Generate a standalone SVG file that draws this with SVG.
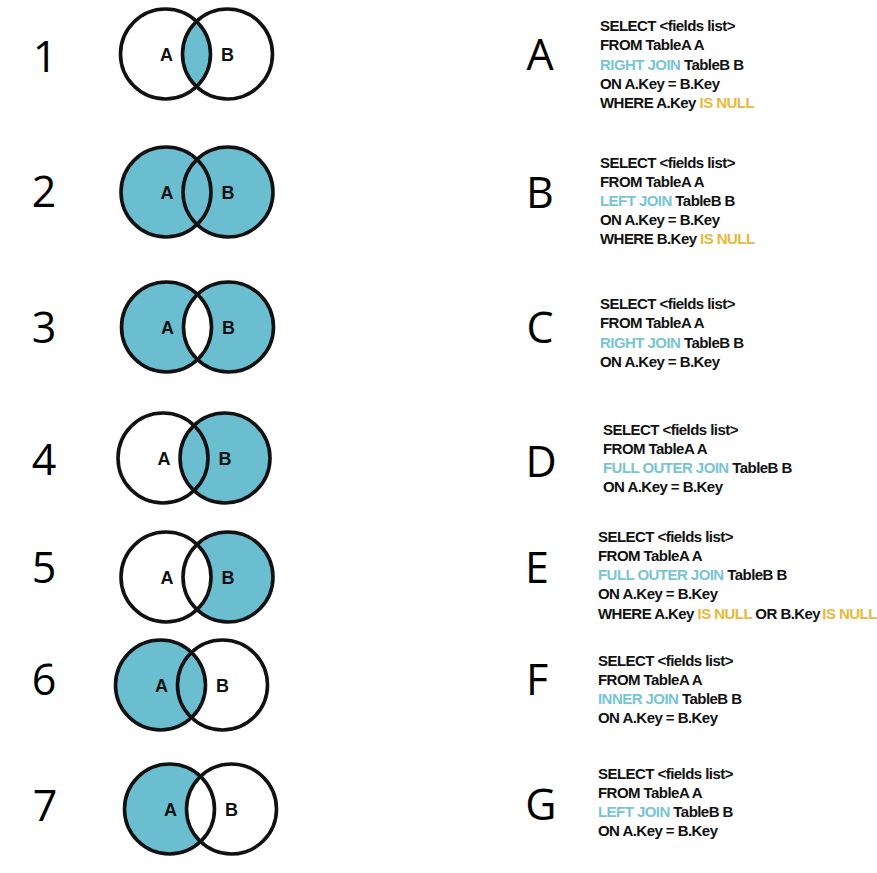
<svg xmlns="http://www.w3.org/2000/svg" width="877" height="873" viewBox="0 0 877 873">
<style>
.num{font-family:"Open Sans","Noto Sans","Liberation Sans",sans-serif;font-size:43px;fill:#000;text-anchor:middle}
.lbl{font-family:"Liberation Sans",Arial,sans-serif;font-weight:bold;font-size:18px;fill:#111;text-anchor:middle}
.sql{font-family:"Liberation Sans",Arial,sans-serif;font-weight:bold;font-size:15px;letter-spacing:-0.55px;fill:#111}
.kw{fill:#78c4d4}
.nl{fill:#e8b93a}
.fill{fill:#6bbdd0}
.blank{fill:#fff}
.ring{fill:none;stroke:#111;stroke-width:3.6}
</style>
<defs>
<clipPath id="clipA"><circle cx="-31" cy="0" r="45"/></clipPath>
<circle id="cA" cx="-31" cy="0" r="45"/>
<circle id="cB" cx="31" cy="0" r="45"/>
</defs>
<rect width="877" height="873" fill="#fff"/>

<g id="venn1" transform="translate(196.5,54)">
<use href="#cB" class="fill" clip-path="url(#clipA)"/>
<use href="#cA" class="ring"/><use href="#cB" class="ring"/>
<text class="lbl" x="-30" y="6.5">A</text><text class="lbl" x="31" y="6.5">B</text>
</g>
<g id="venn2" transform="translate(197,192)">
<use href="#cA" class="fill"/><use href="#cB" class="fill"/>
<use href="#cA" class="ring"/><use href="#cB" class="ring"/>
<text class="lbl" x="-30" y="6.5">A</text><text class="lbl" x="31" y="6.5">B</text>
</g>
<g id="venn3" transform="translate(197.5,327)">
<use href="#cA" class="fill"/><use href="#cB" class="fill"/>
<use href="#cB" class="blank" clip-path="url(#clipA)"/>
<use href="#cA" class="ring"/><use href="#cB" class="ring"/>
<text class="lbl" x="-30" y="6.5">A</text><text class="lbl" x="31" y="6.5">B</text>
</g>
<g id="venn4" transform="translate(194,458)">
<use href="#cB" class="fill"/>
<use href="#cA" class="ring"/><use href="#cB" class="ring"/>
<text class="lbl" x="-30" y="6.5">A</text><text class="lbl" x="31" y="6.5">B</text>
</g>
<g id="venn5" transform="translate(197,577)">
<use href="#cB" class="fill"/>
<use href="#cB" class="blank" clip-path="url(#clipA)"/>
<use href="#cA" class="ring"/><use href="#cB" class="ring"/>
<text class="lbl" x="-30" y="6.5">A</text><text class="lbl" x="31" y="6.5">B</text>
</g>
<g id="venn6" transform="translate(191.5,685)">
<use href="#cA" class="fill"/>
<use href="#cA" class="ring"/><use href="#cB" class="ring"/>
<text class="lbl" x="-30" y="6.5">A</text><text class="lbl" x="31" y="6.5">B</text>
</g>
<g id="venn7" transform="translate(200.5,809)">
<use href="#cA" class="fill"/>
<use href="#cB" class="blank" clip-path="url(#clipA)"/>
<use href="#cA" class="ring"/><use href="#cB" class="ring"/>
<text class="lbl" x="-30" y="6.5">A</text><text class="lbl" x="31" y="6.5">B</text>
</g>

<g id="numbers">
<text class="num" x="45" y="72">1</text>
<text class="num" x="44" y="207">2</text>
<text class="num" x="44" y="343">3</text>
<text class="num" x="44" y="475">4</text>
<text class="num" x="44" y="583">5</text>
<text class="num" x="44" y="695">6</text>
<text class="num" x="45" y="821">7</text>
</g>

<g id="letters">
<text class="num" x="540" y="70">A</text>
<text class="num" x="540" y="208">B</text>
<text class="num" x="540" y="343">C</text>
<text class="num" x="541" y="477">D</text>
<text class="num" x="537" y="583">E</text>
<text class="num" x="537" y="695">F</text>
<text class="num" x="541" y="820">G</text>
</g>

<g id="sqlA" class="sql">
<text x="600" y="30.5">SELECT &lt;fields list&gt;</text>
<text x="600" y="50">FROM TableA A</text>
<text x="600" y="69.5"><tspan class="kw">RIGHT JOIN</tspan> TableB B</text>
<text x="600" y="88.5">ON A.Key = B.Key</text>
<text x="600" y="107.5">WHERE A.Key <tspan class="nl">IS NULL</tspan></text>
</g>
<g id="sqlB" class="sql">
<text x="600" y="167.5">SELECT &lt;fields list&gt;</text>
<text x="600" y="186.5">FROM TableA A</text>
<text x="600" y="205.5"><tspan class="kw">LEFT JOIN</tspan> TableB B</text>
<text x="600" y="224.5">ON A.Key = B.Key</text>
<text x="600" y="244">WHERE B.Key <tspan class="nl">IS NULL</tspan></text>
</g>
<g id="sqlC" class="sql">
<text x="600" y="308.5">SELECT &lt;fields list&gt;</text>
<text x="600" y="328">FROM TableA A</text>
<text x="600" y="347.5"><tspan class="kw">RIGHT JOIN</tspan> TableB B</text>
<text x="600" y="367">ON A.Key = B.Key</text>
</g>
<g id="sqlD" class="sql">
<text x="603" y="434.5">SELECT &lt;fields list&gt;</text>
<text x="603" y="453.5">FROM TableA A</text>
<text x="603" y="472.5"><tspan class="kw">FULL OUTER JOIN</tspan> TableB B</text>
<text x="603" y="492">ON A.Key = B.Key</text>
</g>
<g id="sqlE" class="sql">
<text x="598" y="541.5">SELECT &lt;fields list&gt;</text>
<text x="598" y="560.5">FROM TableA A</text>
<text x="598" y="579.5"><tspan class="kw">FULL OUTER JOIN</tspan> TableB B</text>
<text x="598" y="599">ON A.Key = B.Key</text>
<text x="598" y="618.5">WHERE A.Key <tspan class="nl">IS NULL</tspan> OR B.Key <tspan class="nl" dx="-1.5">IS NULL</tspan></text>
</g>
<g id="sqlF" class="sql">
<text x="598" y="665.5">SELECT &lt;fields list&gt;</text>
<text x="598" y="684.5">FROM TableA A</text>
<text x="598" y="703.5"><tspan class="kw">INNER JOIN</tspan> TableB B</text>
<text x="598" y="722.5">ON A.Key = B.Key</text>
</g>
<g id="sqlG" class="sql">
<text x="598" y="778.5">SELECT &lt;fields list&gt;</text>
<text x="598" y="797.5">FROM TableA A</text>
<text x="598" y="816.5"><tspan class="kw">LEFT JOIN</tspan> TableB B</text>
<text x="598" y="835.5">ON A.Key = B.Key</text>
</g>
<g id="connectors"/>
</svg>
